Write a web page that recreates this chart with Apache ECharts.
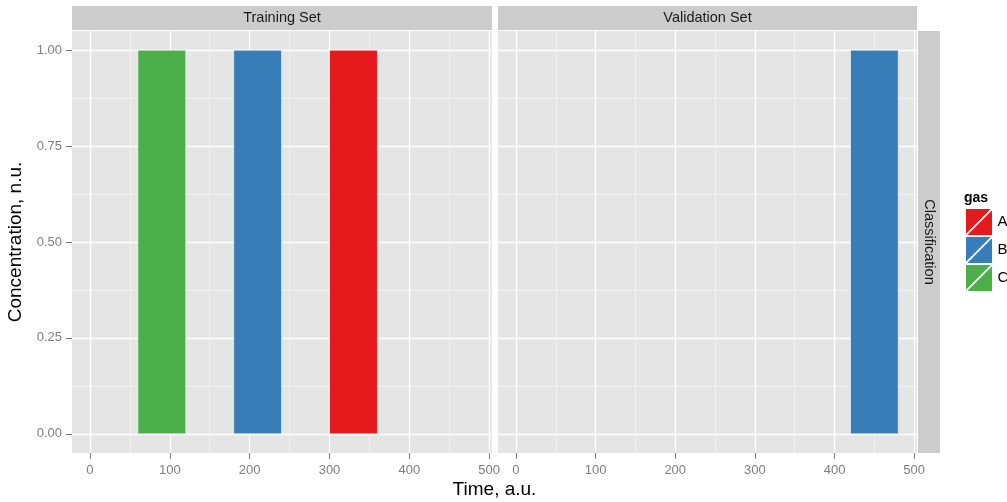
<!DOCTYPE html>
<html>
	<head>
		<meta charset="UTF-8">
		<title>Classification</title>
		<style type="text/css">
			html,body{
				margin: 0;
				padding: 0;
				width: 100%;
				height: 100%;
				background: #fff;
			}
			#main{
				width: 1007px;
				height: 502px;
			}
		</style>
	</head>
	<body>
		<div id="main"></div>
		<script src="https://cdn.jsdelivr.net/npm/echarts@6/dist/echarts.min.js"></script>
		<script>
			var panels = ['Training Set', 'Validation Set'];
			var gases = ['A', 'B', 'C'];
			var gasColors = ['#E41A1C', '#377EB8', '#4DAF4A'];

			// one rectangle per pulse: gas, panel, start, end, concentration
			var barGas = ['C', 'B', 'A', 'B'];
			var barPanel = [0, 0, 0, 1];
			var barStart = [60, 180, 300, 420];
			var barEnd = [120, 240, 360, 480];
			var barConc = [1, 1, 1, 1];

			var xTicks = [0, 100, 200, 300, 400, 500];
			var xMinor = [50, 150, 250, 350, 450];
			var yTicks = [0, 0.25, 0.5, 0.75, 1];
			var yMinor = [0.125, 0.375, 0.625, 0.875];

			var font = "'Liberation Sans', Arial, sans-serif";
			var tickGrey = '#7f7f7f';
			var keyIcon = 'path://M0,0L95,0L0,95Z M100,5L100,100L5,100Z';

			var myChart = echarts.init(document.getElementById('main'));

			function renderBar(params, api) {
				var p0 = api.coord([api.value(0), api.value(2)]);
				var p1 = api.coord([api.value(1), 0]);
				return {
					type: 'rect',
					shape: {x: p0[0], y: p0[1], width: p1[0] - p0[0], height: p1[1] - p0[1]},
					style: {fill: api.visual('color'), stroke: '#fff', lineWidth: 0.6}
				};
			}

			var grids = [
				{left: 72, top: 31, width: 420, height: 422, show: true, backgroundColor: '#E5E5E5', borderWidth: 0},
				{left: 498, top: 31, width: 419, height: 422, show: true, backgroundColor: '#E5E5E5', borderWidth: 0}
			];

			var xAxes = [], yAxes = [];
			// minor grid lines first so the major ones sit on top
			[0, 1].forEach(function (g) {
				xAxes.push({
					type: 'value', gridIndex: g, position: 'top', min: -22.5, max: 503.5,
					axisLine: {show: false, onZero: false}, axisLabel: {show: false},
					axisTick: {show: false, customValues: xMinor},
					splitLine: {show: true, lineStyle: {color: '#F2F2F2', width: 0.9}}
				});
				yAxes.push({
					type: 'value', gridIndex: g, position: 'right', min: -0.05, max: 1.05,
					axisLine: {show: false, onZero: false}, axisLabel: {show: false},
					axisTick: {show: false, customValues: yMinor},
					splitLine: {show: true, lineStyle: {color: '#F2F2F2', width: 0.9}}
				});
			});
			[0, 1].forEach(function (g) {
				xAxes.push({
					type: 'value', gridIndex: g, position: 'bottom', min: -22.5, max: 503.5,
					axisLine: {show: false, onZero: false},
					axisTick: {show: true, length: 6, customValues: xTicks, lineStyle: {color: tickGrey}},
					axisLabel: {show: true, margin: 11, customValues: xTicks, color: tickGrey, fontSize: 13, fontFamily: font},
					splitLine: {show: true, lineStyle: {color: '#fff', width: 1.4}}
				});
				yAxes.push({
					type: 'value', gridIndex: g, position: 'left', min: -0.05, max: 1.05,
					axisLine: {show: false, onZero: false},
					axisTick: {show: g === 0, length: 6, customValues: yTicks, lineStyle: {color: tickGrey}},
					axisLabel: {
						show: g === 0, margin: 10, customValues: yTicks, color: tickGrey, fontSize: 13, fontFamily: font,
						formatter: function (v) { return v.toFixed(2); }
					},
					splitLine: {show: true, lineStyle: {color: '#fff', width: 1.4}}
				});
			});

			var series = [];
			gases.forEach(function (gas, gi) {
				[0, 1].forEach(function (p) {
					var data = [];
					for (var i = 0; i < barGas.length; i++) {
						if (barGas[i] === gas && barPanel[i] === p) {
							data.push([barStart[i], barEnd[i], barConc[i]]);
						}
					}
					if (!data.length) return;
					series.push({
						type: 'custom',
						name: gas,
						xAxisIndex: 2 + p,
						yAxisIndex: 2 + p,
						z: 3,
						itemStyle: {color: gasColors[gi]},
						encode: {x: [0, 1], y: 2},
						renderItem: renderBar,
						data: data
					});
				});
			});

			myChart.setOption({
				animation: false,
				backgroundColor: '#fff',
				textStyle: {fontFamily: font},
				grid: grids,
				xAxis: xAxes,
				yAxis: yAxes,
				legend: {
					orient: 'vertical',
					left: 966,
					top: 209,
					padding: 0,
					itemWidth: 27,
					itemHeight: 26,
					itemGap: 2,
					selectedMode: false,
					itemStyle: {borderWidth: 0},
					textStyle: {fontSize: 15, color: '#000', fontFamily: font},
					data: gases.map(function (g) { return {name: g, icon: keyIcon}; })
				},
				series: series,
				graphic: [
					{type: 'rect', shape: {x: 72, y: 6, width: 420, height: 24}, style: {fill: '#CCCCCC'}},
					{type: 'rect', shape: {x: 498, y: 6, width: 419, height: 24}, style: {fill: '#CCCCCC'}},
					{type: 'rect', shape: {x: 918, y: 31, width: 22, height: 422}, style: {fill: '#CCCCCC'}},
					{type: 'text', x: 282, y: 18, style: {text: panels[0], fill: '#1a1a1a', font: '14.5px ' + font, align: 'center', verticalAlign: 'middle'}},
					{type: 'text', x: 707.5, y: 18, style: {text: panels[1], fill: '#1a1a1a', font: '14.5px ' + font, align: 'center', verticalAlign: 'middle'}},
					{type: 'text', x: 929, y: 242, rotation: -Math.PI / 2, style: {text: 'Classification', fill: '#1a1a1a', font: '14.5px ' + font, align: 'center', verticalAlign: 'middle'}},
					{type: 'text', x: 16, y: 242, rotation: Math.PI / 2, style: {text: 'Concentration, n.u.', fill: '#000', font: '19px ' + font, align: 'center', verticalAlign: 'middle'}},
					{type: 'text', x: 494.5, y: 490, style: {text: 'Time, a.u.', fill: '#000', font: '19px ' + font, align: 'center', verticalAlign: 'middle'}},
					{type: 'text', x: 964, y: 198, style: {text: 'gas', fill: '#000', font: 'bold 14px ' + font, align: 'left', verticalAlign: 'middle'}}
				]
			});
		</script>
	</body>
</html>
